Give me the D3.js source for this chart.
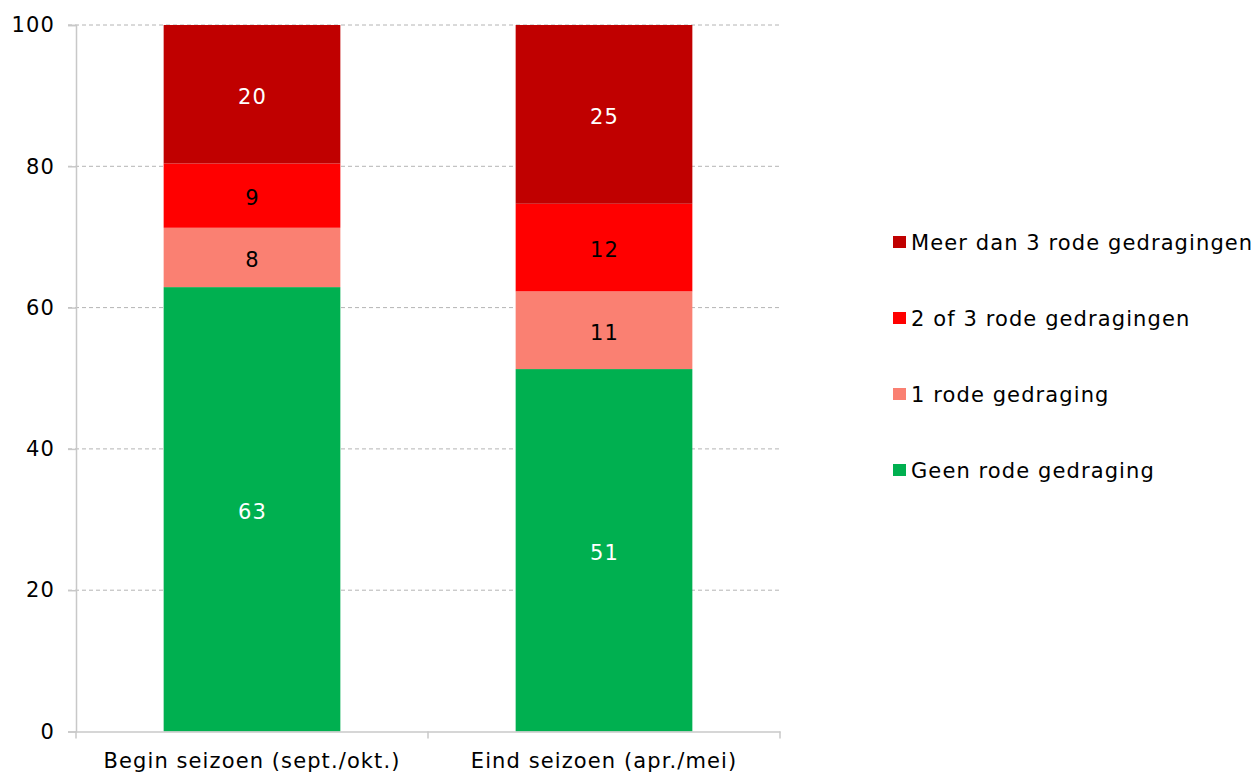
<!DOCTYPE html>
<html><head><meta charset="utf-8">
<script src="https://cdn.jsdelivr.net/npm/d3@7"></script>
<style>body{margin:0;background:#fff}svg{display:block}text{font-family:"DejaVu Sans",Verdana,sans-serif}</style>
</head><body><svg id="c" width="1259" height="774"></svg>
<script>
const categories = ["Begin seizoen (sept./okt.)", "Eind seizoen (apr./mei)"];
const seriesNames = ["Geen rode gedraging", "1 rode gedraging", "2 of 3 rode gedragingen", "Meer dan 3 rode gedragingen"];
const geen = [62.9, 51.3];
const een = [8.4, 11.0];
const tweeDrie = [9.1, 12.4];
const meer = [19.6, 25.3];
const labels = [[63, 51], [8, 11], [9, 12], [20, 25]];
const colors = ["#00B050", "#FA8072", "#FF0000", "#C00000"];
const labelColors = ["#fff", "#000", "#000", "#fff"];
const yTicks = [0, 20, 40, 60, 80, 100];

const FS = 21, LS = "1.1px";
const svg = d3.select("#c");
const m = {l: 76, r: 780, t: 25, b: 731.5};
const x = d3.scaleBand().domain(categories).range([m.l, m.r]).paddingInner(0).paddingOuter(0);
const y = d3.scaleLinear().domain([0, 100]).range([m.b, m.t]);

const rows = categories.map((c, i) => ({cat: c, s0: geen[i], s1: een[i], s2: tweeDrie[i], s3: meer[i]}));
const stack = d3.stack().keys(["s0", "s1", "s2", "s3"])(rows);

svg.append("g").selectAll("line").data(yTicks.filter(d => d > 0)).join("line")
  .attr("x1", 68).attr("x2", m.r).attr("y1", d => y(d)).attr("y2", d => y(d))
  .attr("stroke", "#b4b4b4").attr("stroke-width", 1).attr("stroke-dasharray", "4,3");

const bw = x.bandwidth() * 0.502;
const g = svg.append("g");
stack.forEach((layer, k) => {
  g.selectAll(null).data(layer).join("rect")
    .attr("x", d => x(d.data.cat) + (x.bandwidth() - bw) / 2)
    .attr("width", bw)
    .attr("y", d => y(d[1]))
    .attr("height", d => y(d[0]) - y(d[1]))
    .attr("fill", colors[k]);
  g.selectAll(null).data(layer).join("text")
    .attr("x", d => x(d.data.cat) + x.bandwidth() / 2 + 0.5)
    .attr("y", d => (y(d[0]) + y(d[1])) / 2)
    .attr("dy", "0.45em")
    .attr("text-anchor", "middle")
    .attr("font-size", FS).style("letter-spacing", LS)
    .attr("fill", labelColors[k])
    .text((d, i) => labels[k][i]);
});

const ya = svg.append("g").attr("transform", `translate(${m.l},0)`)
  .call(d3.axisLeft(y).tickValues(yTicks).tickSize(8).tickPadding(13));
ya.select(".domain").attr("stroke", "#c8c8c8").attr("stroke-width", 1.5);
ya.selectAll(".tick line").attr("stroke", "#c8c8c8").attr("stroke-width", 1.5);
ya.selectAll(".tick text").attr("font-size", FS).style("letter-spacing", LS).attr("fill", "#000").style("font-family", '"DejaVu Sans",Verdana,sans-serif');

const xa = svg.append("g").attr("transform", `translate(0,${m.b})`)
  .call(d3.axisBottom(x).tickSize(0).tickPadding(22));
xa.select(".domain").attr("stroke", "#c8c8c8").attr("stroke-width", 1.5);
xa.selectAll(".tick text").attr("font-size", FS).style("letter-spacing", LS).attr("fill", "#000").style("font-family", '"DejaVu Sans",Verdana,sans-serif');
const bounds = [m.l, ...categories.map(c => x(c) + x.bandwidth())];
svg.append("g").selectAll("line").data(bounds).join("line")
  .attr("x1", d => d).attr("x2", d => d).attr("y1", m.b).attr("y2", m.b + 7)
  .attr("stroke", "#c8c8c8").attr("stroke-width", 1.5);

const legOrder = [3, 2, 1, 0];
const lg = svg.append("g");
legOrder.forEach((k, i) => {
  const cy = 242 + i * 76;
  lg.append("rect").attr("x", 893).attr("y", cy - 6).attr("width", 13).attr("height", 12).attr("fill", colors[k]);
  lg.append("text").attr("x", 911).attr("y", cy).attr("dy", "0.36em").attr("font-size", FS).style("letter-spacing", LS).attr("fill", "#000").text(seriesNames[k]);
});
</script></body></html>
